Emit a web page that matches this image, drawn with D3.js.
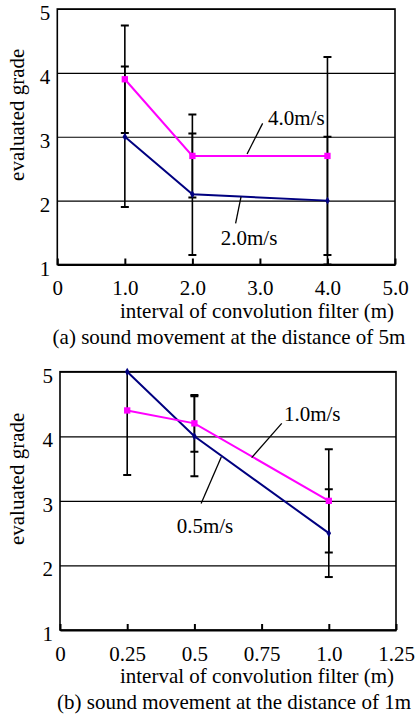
<!DOCTYPE html>
<html>
<head>
<meta charset="utf-8">
<script src="https://cdn.jsdelivr.net/npm/d3@7"></script>
<style>
  body { margin: 0; background: #fff; }
</style>
</head>
<body>
<svg id="chart" width="417" height="716" font-family="'Times New Roman', 'Liberation Serif', serif"></svg>
<script>
// panel (a): sound movement at 5m
var xA = [1.0, 2.0, 4.0];
var slowA = [3.0, 2.1, 2.0];          // 2.0m/s
var slowErrA = [1.1, 0.95, 1.0];
var fastA = [3.9, 2.7, 2.7];          // 4.0m/s
var fastErrA = [0.84, 0.65, 1.55];
var xTicksA = [0, 1, 2, 3, 4, 5];
var xTickLabelsA = ["0", "1.0", "2.0", "3.0", "4.0", "5.0"];

// panel (b): sound movement at 1m
var xB = [0.25, 0.5, 1.0];
var slowB = [5.0, 4.0, 2.5];          // 0.5m/s
var slowErrB = [0, 0.62, 0.68];
var fastB = [4.4, 4.2, 3.0];          // 1.0m/s
var fastErrB = [1.0, 0.44, 0.8];
var xTicksB = [0, 0.25, 0.5, 0.75, 1.0, 1.25];
var xTickLabelsB = ["0", "0.25", "0.5", "0.75", "1.0", "1.25"];

var yTicks = [1, 2, 3, 4, 5];

var NAVY = "#000080", MAGENTA = "#ff00ff";
var FONT = "'Liberation Serif', 'Times New Roman', serif";
var FS = 21;

var svg = d3.select("#chart");

function panel(opt) {
    var g = svg.append("g");
    var x = d3.scaleLinear().domain(opt.xDomain).range([opt.left, opt.right]);
    var y = d3.scaleLinear().domain([1, 5]).range([opt.bottom, opt.top]);

    var clipId = "clip" + opt.id;
    svg.append("clipPath").attr("id", clipId)
        .append("rect")
        .attr("x", opt.left).attr("y", opt.top)
        .attr("width", opt.right - opt.left).attr("height", opt.bottom - opt.top);

    // gridlines + y labels
    var yAxis = d3.axisLeft(y)
        .tickValues(yTicks)
        .tickFormat(d3.format("d"))
        .tickSizeInner(-(opt.right - opt.left))
        .tickSizeOuter(0)
        .tickPadding(7);
    var ya = g.append("g")
        .attr("transform", "translate(" + opt.left + ",0)")
        .call(yAxis)
        .attr("font-family", FONT).attr("font-size", FS);
    ya.select(".domain").remove();
    ya.selectAll(".tick line").attr("stroke", "#000").attr("stroke-width", 1.2);
    ya.selectAll(".tick text").attr("dy", "0.5em");

    // x axis (inward ticks)
    var xAxis = d3.axisBottom(x)
        .tickValues(opt.xTicks)
        .tickFormat(function(d, i) { return opt.xLabels[i]; })
        .tickSizeInner(-6)
        .tickSizeOuter(0)
        .tickPadding(16);
    var xa = g.append("g")
        .attr("transform", "translate(0," + opt.bottom + ")")
        .call(xAxis)
        .attr("font-family", FONT).attr("font-size", FS);
    xa.select(".domain").attr("stroke", "#000").attr("stroke-width", 2.2);
    xa.selectAll(".tick line").attr("stroke", "#000").attr("stroke-width", 2);

    // frame
    g.append("rect")
        .attr("x", opt.left).attr("y", opt.top)
        .attr("width", opt.right - opt.left).attr("height", opt.bottom - opt.top)
        .attr("fill", "none").attr("stroke", "#000").attr("stroke-width", 1.6);

    var series = [
        { v: opt.slow, e: opt.slowErr, color: NAVY, sym: d3.symbolDiamond, size: 18 },
        { v: opt.fast, e: opt.fastErr, color: MAGENTA, sym: d3.symbolSquare, size: 40 }
    ];

    // error bars
    var eb = g.append("g").attr("clip-path", "url(#" + clipId + ")");
    series.forEach(function(s) {
        opt.xs.forEach(function(xv, i) {
            if (!s.e[i]) return;
            var y0 = y(s.v[i] - s.e[i]), y1 = y(s.v[i] + s.e[i]), cx = x(xv);
            eb.append("line").attr("x1", cx).attr("x2", cx).attr("y1", y0).attr("y2", y1)
                .attr("stroke", "#000").attr("stroke-width", 1.6);
            [y0, y1].forEach(function(yy) {
                eb.append("line").attr("x1", cx - 4).attr("x2", cx + 4).attr("y1", yy).attr("y2", yy)
                    .attr("stroke", "#000").attr("stroke-width", 2);
            });
        });
    });

    var line = d3.line()
        .x(function(d) { return x(d[0]); })
        .y(function(d) { return y(d[1]); });

    series.forEach(function(s) {
        var pts = opt.xs.map(function(xv, i) { return [xv, s.v[i]]; });
        g.append("path").datum(pts)
            .attr("d", line)
            .attr("fill", "none").attr("stroke", s.color).attr("stroke-width", 2);
        g.selectAll(null).data(pts).enter().append("path")
            .attr("d", d3.symbol().type(s.sym).size(s.size))
            .attr("transform", function(d) { return "translate(" + x(d[0]) + "," + y(d[1]) + ")"; })
            .attr("fill", s.color);
    });

    // series labels with leader lines
    opt.notes.forEach(function(n) {
        g.append("line")
            .attr("x1", x(n.from[0])).attr("y1", y(n.from[1]))
            .attr("x2", x(n.to[0])).attr("y2", y(n.to[1]))
            .attr("stroke", "#000").attr("stroke-width", 1.3);
        g.append("text")
            .attr("x", x(n.at[0])).attr("y", y(n.at[1]))
            .attr("font-family", FONT).attr("font-size", FS)
            .text(n.text);
    });

    // axis titles
    g.append("text")
        .attr("transform", "translate(24," + ((opt.top + opt.bottom) / 2 - 22) + ") rotate(-90)")
        .attr("text-anchor", "middle")
        .attr("font-family", FONT).attr("font-size", FS)
        .text("evaluated grade");
    g.append("text")
        .attr("x", 257).attr("y", opt.bottom + 53)
        .attr("text-anchor", "middle")
        .attr("font-family", FONT).attr("font-size", FS)
        .text("interval of convolution filter (m)");
    g.append("text")
        .attr("x", opt.captionX).attr("y", opt.bottom + 79)
        .attr("text-anchor", "middle")
        .attr("font-family", FONT).attr("font-size", FS)
        .text(opt.caption);
}

panel({
    id: "a", left: 57.3, right: 395, top: 9, bottom: 264.5,
    xDomain: [0, 5], xTicks: xTicksA, xLabels: xTickLabelsA,
    xs: xA, slow: slowA, slowErr: slowErrA, fast: fastA, fastErr: fastErrA,
    notes: [
        { text: "4.0m/s", at: [3.12, 3.18], from: [3.04, 3.21], to: [2.81, 2.73] },
        { text: "2.0m/s", at: [2.42, 1.31], from: [2.72, 2.06], to: [2.64, 1.645] }
    ],
    captionX: 229,
    caption: "(a) sound movement at the distance of 5m"
});

panel({
    id: "b", left: 60, right: 396, top: 371.7, bottom: 630,
    xDomain: [0, 1.25], xTicks: xTicksB, xLabels: xTickLabelsB,
    xs: xB, slow: slowB, slowErr: slowErrB, fast: fastB, fastErr: fastErrB,
    notes: [
        { text: "1.0m/s", at: [0.833, 4.24], from: [0.825, 4.20], to: [0.713, 3.67] },
        { text: "0.5m/s", at: [0.434, 2.50], from: [0.600, 3.68], to: [0.525, 2.96] }
    ],
    captionX: 234,
    caption: "(b) sound movement at the distance of 1m"
});
</script>
</body>
</html>
